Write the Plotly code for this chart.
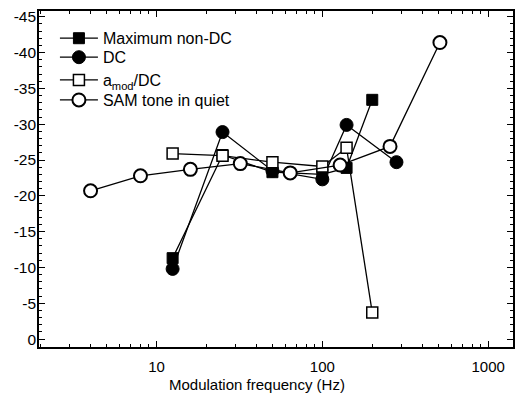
import plotly.graph_objects as go

# Data
max_nondc_x = [12.5, 25, 50, 100, 140, 200]
max_nondc_y = [-11.3, -25.7, -23.3, -23.0, -23.9, -33.4]

dc_x = [12.5, 25, 50, 100, 140, 280]
dc_y = [-9.8, -28.9, -23.5, -22.3, -29.9, -24.7]

amod_x = [12.5, 25, 50, 100, 140, 200]
amod_y = [-25.9, -25.6, -24.7, -24.1, -26.7, -3.7]

sam_x = [4, 8, 16, 32, 64, 128, 256, 512]
sam_y = [-20.7, -22.8, -23.7, -24.5, -23.2, -24.3, -26.9, -41.4]

y_ticks = [0, -5, -10, -15, -20, -25, -30, -35, -40, -45]
x_ticks = [10, 100, 1000]

fig = go.Figure()
line = dict(color="black", width=1.3)

fig.add_trace(go.Scatter(x=dc_x, y=dc_y, name="DC", mode="lines+markers",
                         line=line, legend="legend2",
                         marker=dict(symbol="circle", size=13, color="black",
                                     line=dict(color="black", width=1))))
fig.add_trace(go.Scatter(x=max_nondc_x, y=max_nondc_y, name="Maximum non-DC",
                         mode="lines+markers", line=line, legend="legend",
                         marker=dict(symbol="square", size=11, color="black",
                                     line=dict(color="black", width=1))))
fig.add_trace(go.Scatter(x=amod_x, y=amod_y, name="a<sub>mod</sub>/DC",
                         mode="lines+markers", line=line, legend="legend3",
                         marker=dict(symbol="square", size=11, color="white",
                                     line=dict(color="black", width=1.5))))
fig.add_trace(go.Scatter(x=sam_x, y=sam_y, name="SAM tone in quiet",
                         mode="lines+markers", line=line, legend="legend4",
                         marker=dict(symbol="circle", size=13, color="white",
                                     line=dict(color="black", width=2))))

def leg(y):
    return dict(x=0.0336, y=y, xanchor="left", yanchor="middle",
                bgcolor="rgba(0,0,0,0)", font=dict(size=16), itemwidth=38)

fig.update_layout(
    width=516, height=404,
    margin=dict(l=39, r=1, t=11, b=57),
    paper_bgcolor="white", plot_bgcolor="white",
    font=dict(family="Liberation Sans, Arial, sans-serif", size=15, color="black"),
    showlegend=True,
    legend=leg(0.9187),
    legend2=leg(0.8622),
    legend3=leg(0.7946),
    legend4=leg(0.735),
    annotations=[dict(text="Modulation frequency (Hz)", xref="paper", yref="paper",
                      x=0.46, y=-0.113, xanchor="center", yanchor="middle",
                      showarrow=False, font=dict(size=15))],
)

fig.update_xaxes(
    type="log", range=[0.291, 3.150],
    tickvals=x_ticks, ticktext=[str(v) for v in x_ticks],
    ticks="inside", ticklen=6, tickwidth=1.3, tickcolor="black",
    showline=True, linecolor="black", linewidth=1.6, mirror="allticks",
    showgrid=False, zeroline=False,
    minor=dict(ticks="inside", ticklen=3.5, tickwidth=1.2, tickcolor="black",
               dtick="D1", showgrid=False),
    tickfont=dict(size=15), ticklabelstandoff=5,
)
fig.update_yaxes(
    range=[1.1, -45.8],
    tickvals=y_ticks, ticktext=[str(v) for v in y_ticks],
    ticks="inside", ticklen=6, tickwidth=1.3, tickcolor="black",
    showline=True, linecolor="black", linewidth=1.6, mirror="ticks",
    showgrid=False, zeroline=False,
    minor=dict(ticks="inside", ticklen=3.5, tickwidth=1.2, tickcolor="black",
               dtick=1, showgrid=False),
    tickfont=dict(size=15.5), ticklabelstandoff=-2,
)

fig.write_html("out.html", config={"displayModeBar": False},
               post_script="document.body.style.margin='0';")
